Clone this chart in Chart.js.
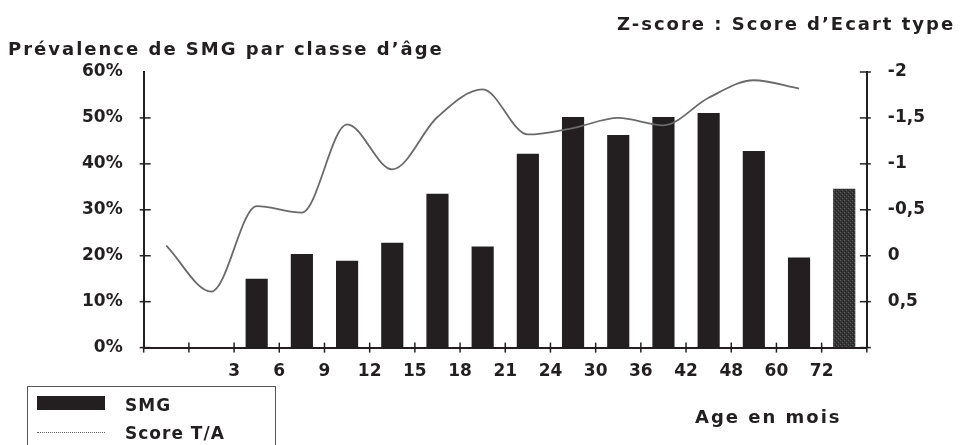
<!DOCTYPE html>
<html>
<head>
<meta charset="utf-8">
<script src="https://cdn.jsdelivr.net/npm/chart.js@4"></script>
<style>
html,body{margin:0;padding:0;background:#fff;}
#wrap{position:relative;width:962px;height:445px;overflow:hidden;font-family:'DejaVu Sans',sans-serif;font-weight:bold;color:#231f20;}
#c{position:absolute;left:0;top:0;}
.t{position:absolute;font-size:18px;line-height:18px;letter-spacing:2px;white-space:nowrap;}
#legend{position:absolute;left:27px;top:386px;width:249px;height:90px;border:1px solid #555;box-sizing:border-box;}
#legend .sw{position:absolute;left:9px;top:9px;width:68px;height:14px;background:#231f20;}
#legend .ln{position:absolute;left:9px;top:45px;width:68px;height:0;border-top:1.5px dotted #666;}
#legend .lt{position:absolute;left:97px;font-size:17px;line-height:18px;letter-spacing:1px;white-space:nowrap;}
</style>
</head>
<body>
<div id="wrap">
  <canvas id="c" width="962" height="445"></canvas>
  <div class="t" id="titleL" style="left:8px;top:40px"></div>
  <div class="t" id="titleR" style="left:617px;top:15px"></div>
  <div class="t" id="titleX" style="left:695px;top:408px"></div>
  <div id="legend">
    <div class="sw"></div><div class="lt" id="lg0" style="top:9px"></div>
    <div class="ln"></div><div class="lt" id="lg1" style="top:37px"></div>
  </div>
</div>
<script>
// ---- data ----
const leftTitle = "Prévalence de SMG par classe d’âge";
const rightTitle = "Z-score : Score d’Ecart type";
const xTitle = "Age en mois";
const seriesNames = ["SMG", "Score T/A"];
// tick labels on the class boundaries
const ageBoundaries = ["", "", "3", "6", "9", "12", "15", "18", "21", "24", "30", "36", "42", "48", "60", "72", ""];
// one value per age class (between boundaries)
const smgValues = [null, null, 15.0, 20.4, 18.9, 22.8, 33.5, 22.0, 42.2, 50.2, 46.3, 50.2, 51.1, 42.8, 19.6, 34.6];
const zScores = [-0.11, 0.39, -0.54, -0.47, -1.43, -0.94, -1.51, -1.81, -1.32, -1.39, -1.50, -1.42, -1.72, -1.91, -1.82, null];
const leftTicks = [0, 60, 10];   // min, max, step (%)
const rightTicks = [-2, 1, 0.5]; // min, max, step (z)

document.getElementById('titleL').textContent = leftTitle;
document.getElementById('titleR').textContent = rightTitle;
document.getElementById('titleX').textContent = xTitle;
document.getElementById('lg0').textContent = seriesNames[0];
document.getElementById('lg1').textContent = seriesNames[1];

const INK = '#231f20';

function makePattern() {
  const p = document.createElement('canvas');
  p.width = 4; p.height = 4;
  const g = p.getContext('2d');
  g.fillStyle = '#353535'; g.fillRect(0, 0, 4, 4);
  g.fillStyle = '#5a5a5a'; g.fillRect(0, 0, 1, 1); g.fillRect(2, 2, 1, 1);
  g.fillStyle = '#222'; g.fillRect(1, 3, 1, 1); g.fillRect(3, 1, 1, 1);
  return g.createPattern(p, 'repeat');
}
const hatch = makePattern();
const lastBar = smgValues.length - 1;

const crossTicks = {
  id: 'crossTicks',
  afterDraw(chart) {
    const ctx = chart.ctx, a = chart.chartArea;
    ctx.save();
    ctx.strokeStyle = INK; ctx.lineWidth = 1.5;
    const seg = (x1, y1, x2, y2) => { ctx.beginPath(); ctx.moveTo(x1, y1); ctx.lineTo(x2, y2); ctx.stroke(); };
    const sx = chart.scales.x;
    sx.ticks.forEach((t, i) => { const px = sx.getPixelForTick(i); seg(px, a.bottom - 5, px, a.bottom + 5); });
    const sy = chart.scales.y;
    sy.ticks.forEach((t, i) => { if (t.value === leftTicks[1]) return; const py = sy.getPixelForTick(i); seg(a.left - 4, py, a.left + 7, py); });
    const sy1 = chart.scales.y1;
    sy1.ticks.forEach((t, i) => { const py = sy1.getPixelForTick(i); seg(a.right - 7, py, a.right + 4, py); });
    ctx.restore();
  }
};

Chart.defaults.font.family = "'DejaVu Sans', sans-serif";
Chart.defaults.font.size = 17;
Chart.defaults.font.weight = 'bold';
Chart.defaults.color = INK;

new Chart(document.getElementById('c'), {
  type: 'bar',
  data: {
    datasets: [
      {
        type: 'line',
        label: seriesNames[1],
        yAxisID: 'y1',
        data: zScores.map((v, i) => ({ x: i + 0.5, y: v })),
        borderColor: '#6a6a6a',
        borderWidth: 1.8,
        pointRadius: 0,
        cubicInterpolationMode: 'monotone',
        order: 0
      },
      {
        type: 'bar',
        label: seriesNames[0],
        yAxisID: 'y',
        data: smgValues.map((v, i) => ({ x: i + 0.5, y: v })),
        backgroundColor: (ctx) => ctx.dataIndex === lastBar ? hatch : INK,
        borderWidth: 0,
        barPercentage: 0.49,
        categoryPercentage: 1,
        order: 1
      }
    ]
  },
  options: {
    responsive: false,
    animation: false,
    layout: { padding: { left: 69, right: 24, top: 72, bottom: 57 } },
    plugins: { legend: { display: false }, tooltip: { enabled: false } },
    scales: {
      x: {
        type: 'linear',
        min: 0, max: ageBoundaries.length - 1,
        offset: false,
        grid: { display: false, offset: false },
        border: { display: true, color: INK, width: 2 },
        ticks: {
          stepSize: 1, autoSkip: false, maxRotation: 0, padding: 6,
          callback: (v) => ageBoundaries[Math.round(v)] ?? ''
        }
      },
      y: {
        position: 'left',
        min: leftTicks[0], max: leftTicks[1],
        grid: { display: false },
        border: { display: true, color: INK, width: 2 },
        ticks: { stepSize: leftTicks[2], padding: 13, callback: (v) => v + '%' }
      },
      y1: {
        position: 'right',
        reverse: true,
        min: rightTicks[0], max: rightTicks[1],
        grid: { display: false },
        border: { display: true, color: INK, width: 2 },
        ticks: {
          stepSize: rightTicks[2], padding: 13,
          callback: (v) => v === rightTicks[1] ? '' : String(v).replace('.', ',')
        }
      }
    }
  },
  plugins: [crossTicks]
});
</script>
</body>
</html>
